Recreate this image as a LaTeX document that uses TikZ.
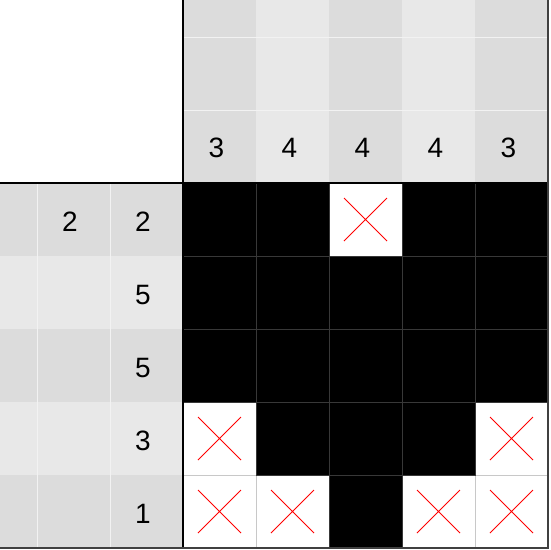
\documentclass[tikz,border=0pt]{standalone}
\usepackage{fontspec}
\setmainfont{Liberation Sans}
\definecolor{cluedark}{HTML}{DCDCDC}
\definecolor{cluelight}{HTML}{E8E8E8}
\definecolor{clueline}{HTML}{F2F2F2}
\definecolor{gridlight}{HTML}{C8C8C8}
\definecolor{griddark}{HTML}{383838}
\tikzset{
  clue/.style={font=\fontsize{28}{34}\selectfont, inner sep=0pt},
  cross/.style={red, line width=1pt},
  filled/.style={fill=black, draw=griddark, line width=0.8pt},
  empty/.style={fill=white, draw=gridlight, line width=0.8pt}
}

\begin{document}
\begin{tikzpicture}[x=1pt,y=-1pt]
\useasboundingbox (0,0) rectangle (550,550);

% clue areas
\foreach \x/\c in {183/cluedark,256/cluelight,329/cluedark,402/cluelight,475/cluedark}
  \fill[\c] (\x,0) rectangle ++(73,183);
\foreach \y/\c in {183/cluedark,256/cluelight,329/cluedark,402/cluelight,475/cluedark}
  \fill[\c] (0,\y) rectangle ++(183,73);
\draw[clueline, line width=0.8pt] (183,37) -- (548,37) (183,110) -- (548,110);
\draw[clueline, line width=0.8pt] (37,183) -- (37,548) (110,183) -- (110,548);

% board: white cells first, then black ones
\foreach \c/\r in {2/0,0/3,4/3,0/4,1/4,3/4,4/4}
  \draw[empty] (183+73*\c,183+73*\r) rectangle ++(73,73);
\foreach \c/\r in {0/0,1/0,3/0,4/0,0/1,1/1,2/1,3/1,4/1,0/2,1/2,2/2,3/2,4/2,1/3,2/3,3/3,2/4}
  \draw[filled] (183+73*\c,183+73*\r) rectangle ++(73,73);

% crosses
\foreach \c/\r in {2/0,0/3,4/3,0/4,1/4,3/4,4/4}
  \draw[cross] (198+73*\c,198+73*\r) -- ++(43,43) ++(0,-43) -- ++(-43,43);

% column clues
\node[clue] (c1) at (216.5,148) {3};
\node[clue] (c2) at (289.5,148) {4};
\node[clue] (c3) at (362.5,148) {4};
\node[clue] (c4) at (435.5,148) {4};
\node[clue] (c5) at (508.5,148) {3};

% row clues
\node[clue] (r1a) at (70,222) {2};
\node[clue] (r1b) at (143,222) {2};
\node[clue] (r2) at (143,295) {5};
\node[clue] (r3) at (143,368) {5};
\node[clue] (r4) at (143,441) {3};
\node[clue] (r5) at (143,514) {1};

% frame
\draw[line width=1.5pt] (183,0) -- (183,548) (0,183) -- (548,183);
\draw[line width=1.5pt, black!75] (548,0) -- (548,548) -- (0,548);
\end{tikzpicture}
\end{document}
